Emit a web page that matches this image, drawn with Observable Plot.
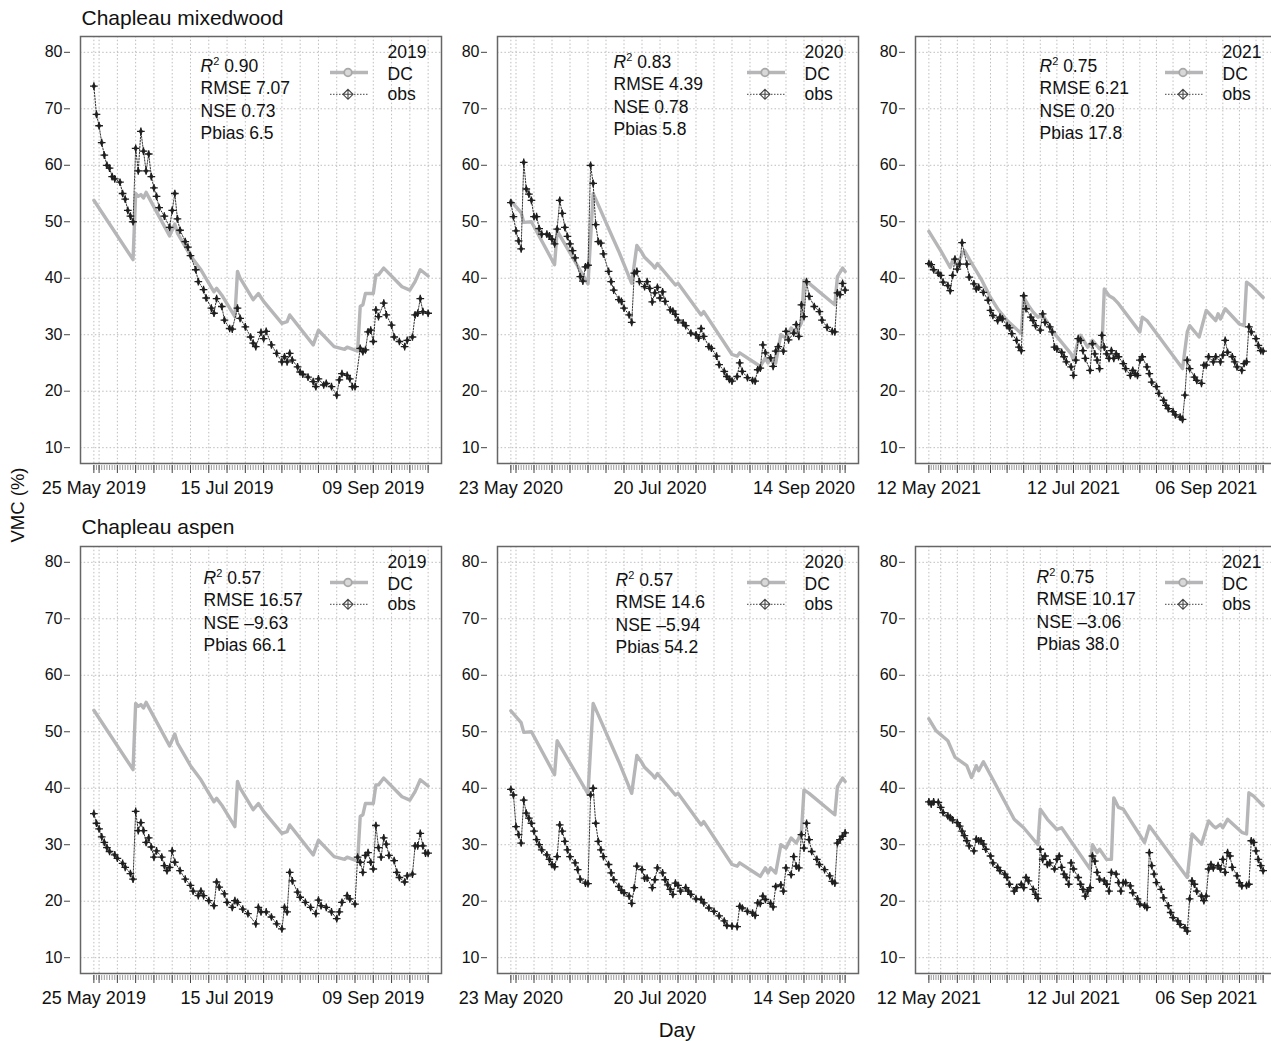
<!DOCTYPE html>
<html><head><meta charset="utf-8">
<script src="https://cdn.jsdelivr.net/npm/d3@7"></script>
<script src="https://cdn.jsdelivr.net/npm/@observablehq/plot@0.6"></script>
<style>
html,body{margin:0;padding:0;background:#fff;overflow:hidden;}
#root{position:relative;width:1271px;height:1041px;overflow:hidden;background:#fff;}
#root svg{position:absolute;}
</style></head><body><div id="root"></div>
<script>
// ---------- data: [day offset from season start, VMC %] ----------
const dc2019 = [[0,53.8],[15,43.3],[16,55],[17,54.5],[18,54.8],[19,54.2],[20,55.2],[29,47.5],[31,49.6],[32,48],[37,44],[41,41.5],[46,37.6],[47,38.2],[49,37],[54,33.2],[55,41.2],[56,40],[61,36.2],[63,37.3],[65,35.9],[72,32],[74,32.3],[75,33.5],[84,28.2],[86,30.8],[92,27.9],[96,27.4],[97,27.8],[101,27.1],[102,35],[103,35.3],[104,37.3],[107,37.3],[108,40.6],[109,40.6],[111,41.8],[118,38.5],[121,37.9],[123,39.4],[125,41.5],[128,40.4]];
const obsMixed2019 = [[0,74],[1,69],[2,67],[3,64],[4,61.8],[5,60],[6,59.5],[7,58],[8,57.6],[10,57],[11,55],[12,54],[13,52],[14,51],[15,50],[16,63],[17,59],[18,66],[19,62.5],[20,59],[21,62],[22,58],[23,56],[24,54.5],[25,52.5],[27,51],[29,49],[30,52],[31,55],[32,50.5],[33,48.5],[35,46.5],[36,45.5],[37,44],[39,41.5],[40,39.4],[42,38],[43,36.5],[45,34.7],[46,33.8],[47,36.4],[49,35],[50,32.6],[52,31.1],[53,31],[55,34.7],[56,32.9],[58,31.4],[60,29.6],[61,28.5],[62,27.9],[64,30.4],[65,29.3],[66,30.6],[68,28.2],[70,26.7],[72,25.2],[73,26.1],[74,25.2],[75,26.7],[76,25.5],[78,24.3],[79,23.4],[80,23],[82,22.5],[84,21.7],[85,20.8],[86,22.2],[88,21.1],[89,21.4],[91,20.8],[93,19.3],[94,22],[95,23.1],[97,22.8],[98,22.2],[99,20.8],[100,20.8],[102,27.6],[103,27],[104,27.3],[105,30.5],[106,30.8],[107,28.8],[108,34.4],[109,33.2],[111,35.6],[112,33.5],[114,31.7],[115,29.6],[117,28.8],[119,27.9],[120,29],[122,29.6],[123,33.5],[124,33.8],[125,36.4],[126,34.1],[128,33.8]];
const obsAspen2019 = [[0,35.5],[1,33.8],[2,32.8],[3,31.4],[4,30.4],[5,29.5],[6,28.8],[8,28.2],[9,27.6],[11,26.7],[12,26],[14,24.9],[15,23.9],[16,35.9],[17,32.5],[18,33.9],[19,32.5],[20,30.4],[21,31.2],[22,29.6],[23,27.8],[24,28.9],[26,27.8],[27,26.3],[28,25.4],[29,26],[30,28.9],[31,26.9],[33,25.4],[35,23.9],[37,22.8],[38,21.8],[40,21],[41,21.8],[42,21],[44,20.1],[46,19.2],[47,23.4],[48,22.5],[50,21.3],[51,19.8],[53,18.9],[54,20.1],[55,19.8],[57,18.6],[59,17.8],[62,16],[63,18.9],[64,18.1],[66,18.1],[68,17.2],[70,16],[72,15.1],[73,18.9],[74,18.1],[75,25.1],[76,23.6],[78,21.6],[79,20.7],[81,19.8],[83,18.9],[85,17.8],[86,20.2],[87,19.2],[89,18.9],[91,18.1],[93,16.9],[94,18.1],[95,19.8],[97,21],[98,20.4],[100,19.5],[101,27.8],[102,26.9],[103,25.1],[104,28.1],[105,28.6],[106,26.9],[107,25.7],[108,33.4],[109,29.5],[110,27.8],[111,31.2],[112,30.1],[113,28.1],[115,27.2],[116,25.1],[117,24.2],[119,23.4],[120,24.5],[122,24.8],[123,29.8],[124,29.8],[125,32],[126,29.8],[127,28.5],[128,28.5]];
const dc2020 = [[0,53.7],[4,51.6],[5,49.9],[8,50],[17,42.4],[18,48.4],[30,39],[32,55],[33,54],[42,44.7],[47,39.1],[49,45.8],[51,44.5],[52,43.7],[55,42.4],[56,41.8],[57,42.6],[64,38.8],[65,39.1],[73,34.1],[74,33.5],[75,34.1],[86,26.5],[88,26.2],[89,26.8],[95,25],[97,24.4],[99,25.9],[100,25],[101,25.9],[103,25],[105,30],[107,29.4],[109,31.2],[111,30.3],[113,32.1],[114,39.7],[116,39.1],[126,35.3],[127,40.3],[129,41.8],[130,41.2]];
const obsMixed2020 = [[0,53.4],[1,50.9],[2,48.4],[3,46.6],[4,45.2],[5,60.5],[6,55.8],[7,54.9],[8,53.8],[9,50.9],[10,50.9],[11,48.8],[12,47.8],[14,47.8],[15,47.5],[16,46.9],[17,46.1],[18,48.7],[19,53.8],[20,51.5],[21,49],[22,47.4],[23,46.1],[24,44.9],[25,43.6],[27,40.3],[28,39.5],[29,42],[30,42.3],[31,60],[32,56.8],[33,49.5],[34,46.5],[35,46.2],[36,44.3],[38,41.2],[39,39.4],[40,37.9],[42,36.2],[43,35.9],[44,34.7],[46,33.5],[47,32.2],[48,40.9],[49,41.2],[50,39.4],[52,38.5],[53,39.4],[54,38.2],[55,35.8],[56,37.4],[57,38.4],[58,36.5],[59,37.6],[60,35.9],[62,34.4],[63,34.2],[64,33.6],[65,32.6],[67,32.1],[68,31.6],[70,30.3],[72,30],[73,29.4],[74,31.1],[75,29.7],[77,27.9],[78,27.6],[80,26.2],[81,24.7],[83,23.5],[84,22.6],[85,22.1],[86,21.8],[88,22.6],[89,25],[90,23.5],[92,22.4],[94,21.9],[95,21.8],[96,23.8],[97,24.1],[98,28.2],[99,26.8],[101,25.9],[102,24.4],[103,27.1],[104,27.9],[106,27.1],[107,30.6],[108,29.1],[110,30.3],[111,31.8],[112,29.7],[113,35.3],[114,33.2],[115,39.4],[116,36.8],[118,35],[120,34.1],[121,32.6],[123,31.3],[125,30.6],[126,30.5],[127,37.4],[128,37.1],[129,39.1],[130,37.9]];
const obsAspen2020 = [[0,39.8],[1,38.8],[2,33.2],[3,31.8],[4,30.3],[5,37.9],[6,35.6],[7,34.7],[8,33.8],[9,32.4],[10,30.9],[11,30],[12,29.1],[14,28.2],[15,27.4],[16,26.5],[17,26.1],[18,27.9],[19,33.5],[20,32.4],[21,30.6],[22,29.1],[23,27.9],[25,26.8],[26,25.6],[27,23.9],[29,23.2],[30,23.1],[31,38.8],[32,40],[33,33.8],[34,30.6],[35,29.1],[36,27.9],[38,26.5],[39,25],[40,23.8],[42,22.6],[43,21.9],[44,21.5],[46,20.9],[47,19.6],[48,22.4],[49,26.2],[51,25.6],[52,24.1],[53,24.1],[55,22.4],[56,23.8],[57,25.9],[59,25],[60,23.8],[61,22.9],[62,22.1],[63,21.2],[64,23.2],[65,22.8],[66,21.8],[68,22.4],[69,21.8],[70,21.2],[72,20.4],[74,20.3],[75,19.7],[77,18.8],[79,18.2],[81,17.4],[83,16.5],[84,15.7],[86,15.6],[88,15.5],[89,19.1],[90,18.8],[92,18.2],[94,17.9],[95,17.5],[96,19.7],[97,19.6],[98,20.9],[99,20.3],[101,19.6],[102,19],[103,22.6],[105,22.9],[106,21.8],[107,25.9],[109,24.7],[110,27.9],[111,26.2],[112,25.9],[113,31.8],[114,29.4],[115,33.8],[116,30.9],[117,28.8],[119,27.4],[120,26.5],[122,25.6],[124,24.5],[125,23.5],[126,23.2],[127,30.3],[128,30.9],[129,31.5],[130,32.1]];
const dcMixed2021 = [[0,48.3],[5,44.9],[9,41.9],[10,43.1],[12,42.3],[14,44.3],[15,44.9],[17,43.4],[22,39.9],[26,36.6],[29,34.6],[33,32.5],[39,30.2],[40,36.6],[42,35.2],[44,34],[46,33.1],[48,33.5],[53,30.2],[60,26.6],[61,25.5],[63,29],[64,29.9],[67,27.8],[69,29],[72,27.5],[73,27.8],[74,38.1],[76,36.9],[78,36.4],[80,35.5],[89,30.5],[90,33.1],[92,32.5],[107,24],[109,30.5],[110,31.6],[114,29.6],[117,34.3],[119,33.4],[121,32.5],[122,33.7],[123,32.8],[125,34.6],[131,31.9],[133,31.6],[134,39.3],[136,38.7],[141,36.6]];
const obsMixed2021 = [[0,42.6],[1,42.4],[2,41.5],[4,40.9],[5,40.5],[6,39.3],[8,38.7],[9,37.8],[10,40.5],[11,43.4],[12,41.6],[13,42.5],[14,46.3],[16,42.5],[17,40.2],[19,39],[20,38.1],[21,38.4],[23,37.5],[25,36.1],[26,34.3],[27,33.4],[29,32.5],[30,33.1],[31,32.8],[33,31.6],[34,31.2],[35,30.2],[37,29],[38,27.8],[39,27.2],[40,36.9],[41,34.6],[43,33.1],[44,32.5],[45,31.6],[47,30.8],[48,33.7],[49,32.2],[51,31.4],[52,30.5],[53,27.8],[54,27.5],[56,26.9],[57,26.1],[58,25.2],[60,24.3],[61,22.8],[62,25.5],[63,29.3],[64,29],[65,27.2],[66,25.8],[68,23.7],[69,28.4],[70,26.6],[71,25.5],[72,24],[73,29.9],[74,27.8],[75,26.6],[76,25.8],[77,27.2],[78,25.8],[79,26.6],[80,26.1],[82,24.9],[83,24],[85,22.8],[86,23.7],[87,23.1],[88,22.8],[89,25.5],[90,26.1],[92,24.3],[93,23.1],[94,21.6],[96,20.8],[97,19.6],[99,18.4],[100,17.5],[101,16.9],[103,16.4],[104,15.8],[106,15.4],[107,15],[108,19.3],[109,25.5],[110,24],[112,22.5],[113,21.9],[115,21.4],[116,24.6],[117,24.6],[118,26.1],[120,25.2],[121,26.1],[123,25.2],[124,26.4],[125,29],[126,26.9],[128,26.1],[129,25.2],[130,24.3],[132,23.7],[133,24.9],[134,25.2],[135,31.4],[136,30.5],[138,29.3],[139,28.1],[140,27.2],[141,27.1]];
const dcAspen2021 = [[0,52.3],[3,50.2],[8,48.4],[11,45.5],[16,44],[18,41.9],[20,44],[21,43.1],[23,44.7],[36,34.5],[40,33],[46,30],[47,36.3],[50,34.5],[54,32.7],[56,33],[68,25.7],[69,30],[71,28.6],[72,29.2],[75,27.4],[77,27.4],[78,38.3],[80,36.6],[82,36.3],[91,30.4],[93,33.3],[109,24.2],[111,31.9],[115,30.1],[118,34.2],[120,33.3],[121,33],[123,33.6],[124,33],[126,34.5],[132,32.2],[134,31.9],[135,39.2],[137,38.6],[141,36.9]];
const obsAspen2021 = [[0,37.6],[1,37.2],[2,37.6],[4,37.5],[5,36.6],[6,35.7],[8,35.1],[9,34.8],[10,34.4],[12,33.9],[13,33.3],[14,32.4],[15,31.6],[16,30.7],[17,29.8],[19,28.9],[20,31],[21,30.7],[22,30.7],[23,30.1],[24,29.2],[26,28],[27,26.8],[29,26],[30,25.4],[32,24.8],[33,24.2],[34,23],[36,21.8],[37,22.4],[39,23],[40,22.4],[41,24.2],[42,23.6],[44,22.1],[45,21.2],[46,20.5],[47,29.2],[48,27.4],[49,28],[50,26.5],[51,26.8],[53,25.7],[54,27.4],[55,28],[56,26],[57,24.8],[58,24.2],[59,23],[60,26.8],[61,25.7],[63,24.2],[64,23],[65,22.1],[66,20.9],[67,21.8],[68,22.4],[69,28],[70,27.1],[71,25.1],[72,23.9],[74,23.6],[75,23],[76,21.8],[77,25.1],[79,24.8],[80,23.3],[81,21.8],[82,23.3],[83,23.3],[85,22.7],[86,21.5],[88,20.4],[89,19.5],[91,19.2],[92,18.9],[93,28.6],[94,26.3],[95,24.8],[96,23.3],[98,22.1],[99,20.6],[101,19.2],[102,18],[103,17.1],[105,16.5],[106,15.9],[108,15.3],[109,14.7],[110,20.4],[111,23.6],[112,23],[113,21.8],[115,20.9],[116,20.1],[117,20.9],[118,25.7],[119,26.5],[120,25.9],[122,26.3],[123,25.7],[124,27.4],[125,25.1],[126,28.6],[127,28],[128,26],[130,24.5],[131,23.3],[132,22.7],[134,22.8],[135,23],[136,30.7],[137,30.4],[138,28.9],[139,27.4],[140,26.3],[141,25.4]];

const seasonStart = ["2019-05-25", "2020-05-23", "2021-05-12"];
const seasonEnd = ["2019-09-30", "2020-09-30", "2021-09-30"];
const years = ["2019", "2020", "2021"];
const dateLabels = [["2019-05-25","2019-07-15","2019-09-09"],["2020-05-23","2020-07-20","2020-09-14"],["2021-05-12","2021-07-12","2021-09-06"]];
const siteNames = ["Chapleau mixedwood", "Chapleau aspen"];
const yTicks = [10, 20, 30, 40, 50, 60, 70, 80];
const statR2 = [["0.90","0.83","0.75"],["0.57","0.57","0.75"]];
const statRMSE = [["7.07","4.39","6.21"],["16.57","14.6","10.17"]];
const statNSE = [["0.73","0.78","0.20"],["–9.63","–5.94","–3.06"]];
const statPbias = [["6.5","5.8","17.8"],["66.1","54.2","38.0"]];
const dcSeries = [[dc2019, dc2020, dcMixed2021],[dc2019, dc2020, dcAspen2021]];
const obsSeries = [[obsMixed2019, obsMixed2020, obsMixed2021],[obsAspen2019, obsAspen2020, obsAspen2021]];

// ---------- layout ----------
const FONT = '"Liberation Sans", Arial, Helvetica, sans-serif';
const colLeft = [80, 497, 915], rowTop = [36, 546];
const frameW = 361, frameH = 427;
const ML = 80, MT = 10, MR = 2, MB = 48;
const statX = [[120,116,124],[123,118,121]];
const statBase = [[35,31,35],[37,39,36]];
const DAY = 864e5;
const root = document.getElementById("root");
const utc = s => new Date(s + "T00:00:00Z");

for (let r = 0; r < 2; r++) for (let c = 0; c < 3; c++) {
  const start = utc(seasonStart[c]), end = utc(seasonEnd[c]);
  const span = end - start;
  const domain = [new Date(+start - 0.04 * span), new Date(+end + 0.04 * span)];
  const mondays = d3.utcMonday.range(new Date(+start + DAY), end);
  const major = [start, ...mondays, end];
  const minor = d3.utcDay.range(start, new Date(+end + DAY));
  const labels = dateLabels[c].map(utc);
  const rows = pairs => pairs.map(([d, v]) => ({date: new Date(+start + d * DAY), vmc: v}));
  const dc = rows(dcSeries[r][c]), obs = rows(obsSeries[r][c]);
  const sx = statX[r][c], sb = statBase[r][c];
  const statLines = ["R2 " + statR2[r][c], "RMSE " + statRMSE[r][c], "NSE " + statNSE[r][c], "Pbias " + statPbias[r][c]];
  const txt = {frameAnchor: "top-left", textAnchor: "start", lineAnchor: "middle", fontSize: 17.5, fill: "#111"};
  const grid = {stroke: "#bdbdbd", strokeOpacity: 1, strokeDasharray: "1.5,2.2", strokeWidth: 1};

  const svg = Plot.plot({
    width: ML + frameW + MR, height: MT + frameH + MB,
    marginLeft: ML, marginTop: MT, marginRight: MR, marginBottom: MB,
    style: {fontFamily: FONT, background: "transparent", color: "#111", overflow: "visible"},
    x: {type: "utc", domain, label: null},
    y: {domain: [7.2, 82.8], label: null},
    marks: [
      Plot.gridY(yTicks, grid),
      Plot.gridX(major, grid),
      Plot.axisX(minor, {tickSize: 5, stroke: "#9a9a9a", tickFormat: () => "", dy: 2, label: null}),
      Plot.axisX(major, {tickSize: 8, stroke: "#444", tickFormat: () => "", dy: 2, label: null}),
      Plot.axisX(labels, {tickSize: 0, tickPadding: 18, tickFormat: d3.utcFormat("%d %b %Y"), fontSize: 18, fill: "#111", label: null}),
      Plot.axisY(yTicks, {tickSize: 6, tickPadding: 2, dx: -10, fontSize: 16, stroke: "#444", fill: "#111", label: null}),
      Plot.line(dc, {x: "date", y: "vmc", stroke: "#b6b6b8", strokeWidth: 3.4}),
      Plot.line(obs, {x: "date", y: "vmc", stroke: "#333", strokeWidth: 1, strokeDasharray: "1.5,1.5"}),
      Plot.dot(obs, {x: "date", y: "vmc", symbol: "diamond", r: 1.8, fill: "#2a2a2a", stroke: "#2a2a2a", strokeWidth: 0.8}),
      Plot.dot(obs, {x: "date", y: "vmc", symbol: "plus", r: 2.6, stroke: "#1e1e1e", strokeWidth: 1.3}),
      Plot.frame({stroke: "#666", strokeWidth: 1.5}),
      ...statLines.map((s, i) => Plot.text([s], {...txt, text: d => d, dx: sx, dy: sb + 22.5 * i - 5.6})),
      Plot.text([years[c]], {...txt, text: d => d, dx: 307, dy: 15.4}),
      Plot.text(["DC"], {...txt, text: d => d, dx: 307, dy: 37.4}),
      Plot.text(["obs"], {...txt, text: d => d, dx: 307, dy: 58.2})
    ]
  });

  const s = d3.select(svg);
  // italic R with superscript 2
  s.selectAll("text").filter(function () { return this.textContent.startsWith("R2 "); }).each(function () {
    const t = d3.select(this);
    const v = this.textContent.slice(3);
    t.text(null);
    t.append("tspan").attr("font-style", "italic").text("R");
    t.append("tspan").attr("font-size", 11).attr("dy", -7).text("2");
    t.append("tspan").attr("dy", 7).text("\u00a0" + v);
  });
  // legend swatches
  const g = s.append("g");
  const lx0 = ML + 250, lx1 = ML + 288, cx = ML + 268, yDC = MT + 36.5, yObs = MT + 58.3;
  g.append("line").attr("x1", lx0).attr("x2", lx1).attr("y1", yDC).attr("y2", yDC).attr("stroke", "#b6b6b8").attr("stroke-width", 3.4);
  g.append("circle").attr("cx", cx).attr("cy", yDC).attr("r", 3.8).attr("fill", "#d8d8d8").attr("stroke", "#a8a8a8").attr("stroke-width", 1.8);
  g.append("line").attr("x1", lx0).attr("x2", lx1).attr("y1", yObs).attr("y2", yObs).attr("stroke", "#444").attr("stroke-width", 1).attr("stroke-dasharray", "1.5,1.5");
  g.append("path").attr("d", `M${cx},${yObs-5}L${cx+5},${yObs}L${cx},${yObs+5}L${cx-5},${yObs}ZM${cx-5},${yObs}H${cx+5}M${cx},${yObs-5}V${yObs+5}`)
    .attr("fill", "white").attr("stroke", "#444").attr("stroke-width", 1.1);

  svg.style.left = (colLeft[c] - ML) + "px";
  svg.style.top = (rowTop[r] - MT) + "px";
  root.appendChild(svg);
}

// ---------- titles and axis names ----------
const ov = d3.create("svg").attr("width", 1271).attr("height", 1041)
  .style("left", "0px").style("top", "0px").style("pointer-events", "none")
  .attr("font-family", FONT).attr("fill", "#111");
ov.append("text").attr("x", 81.5).attr("y", 25).attr("font-size", 21).text(siteNames[0]);
ov.append("text").attr("x", 81.5).attr("y", 533.5).attr("font-size", 21).text(siteNames[1]);
ov.append("text").attr("transform", "translate(24,505) rotate(-90)").attr("text-anchor", "middle").attr("font-size", 18.5).text("VMC (%)");
ov.append("text").attr("x", 677).attr("y", 1037).attr("text-anchor", "middle").attr("font-size", 20.5).text("Day");
root.appendChild(ov.node());
</script></body></html>
